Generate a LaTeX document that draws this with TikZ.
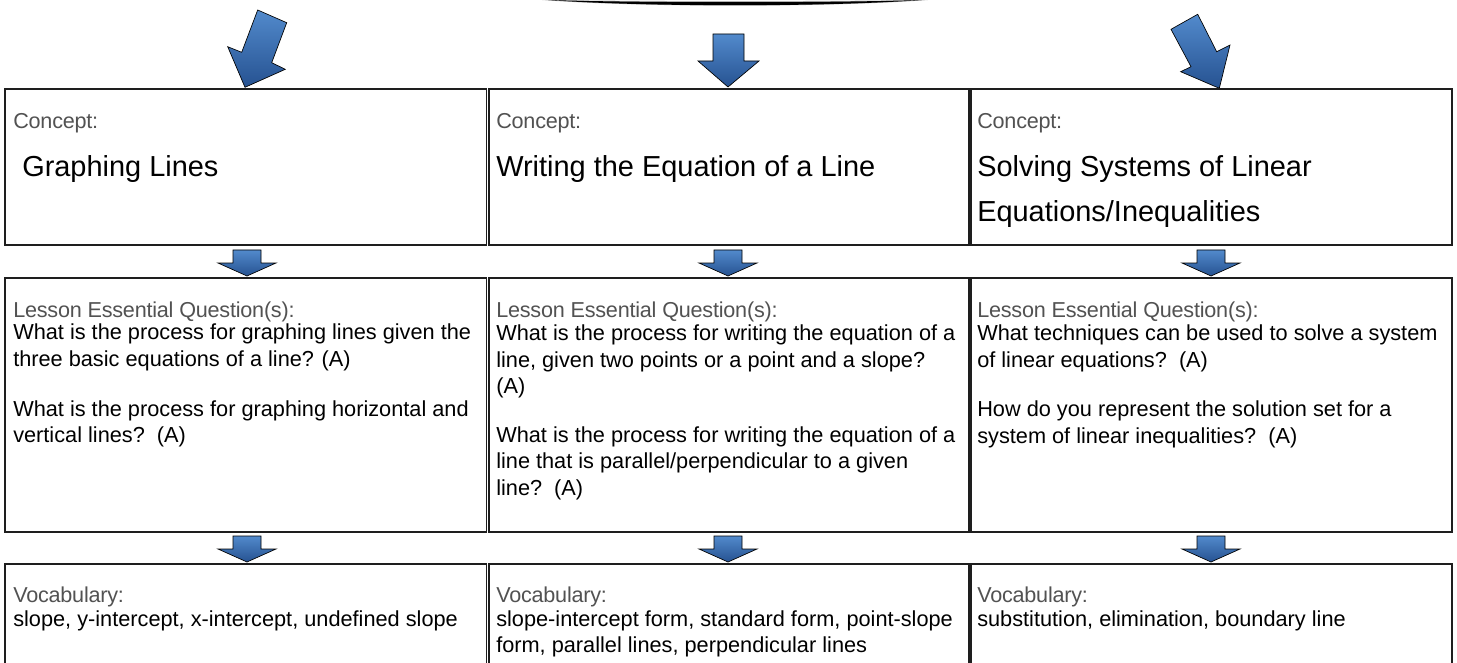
\documentclass[tikz,border=0pt]{standalone}
\usepackage{fontspec}
\setmainfont{Liberation Sans}
\newfontfamily\hdrfont[LetterSpace=-1]{Liberation Sans}
\usetikzlibrary{fit}
\definecolor{hdrgray}{RGB}{82,82,82}
\definecolor{arrtop}{RGB}{82,138,204}
\definecolor{arrbot}{RGB}{38,82,145}
\definecolor{boxline}{RGB}{30,30,30}
\begin{document}
\begin{tikzpicture}[x=0.75pt,y=-0.75pt,
  box/.style={draw=boxline, line width=1.1pt, inner sep=0pt, outer sep=0pt},
  lab/.style={anchor=base west, inner sep=0pt, text=hdrgray, font=\hdrfont\fontsize{16.2}{20}\selectfont},
  txt/.style={anchor=base west, inner sep=0pt, font=\fontsize{16.3}{20}\selectfont},
  ttl/.style={anchor=base west, inner sep=0pt, font=\fontsize{21.7}{26}\selectfont},
  blockarrow/.style={draw=black, line width=0.5pt, top color=arrtop, bottom color=arrbot, line join=miter},
  downarrow/.pic={\path[blockarrow] (-14,0) -- (14,0) -- (14,13) -- (29,13) -- (0,26) -- (-29,13) -- (-14,13) -- cycle;}]
\useasboundingbox (0,0) rectangle (1457,663);
\clip (0,0) rectangle (1457,663);
\fill[white] (0,0) rectangle (1457,663);

% top curved edge
\fill[gray!60] (542,0) .. controls (640,7.5) and (830,7.5) .. (928,0) .. controls (830,1.5) and (640,1.5) .. cycle;
\fill[black] (548,0) .. controls (645,7) and (825,7) .. (922,0) .. controls (825,3) and (645,3) .. cycle;

% top block arrows
\path[blockarrow] (257.7,10) -- (286.7,22.7) -- (271.7,62.7) -- (285.3,69.3) -- (245,87.3) -- (227.7,46.7) -- (241.7,52.3) -- cycle;
\path[blockarrow] (713,34) -- (744,34) -- (744,61) -- (759,61) -- (728,87) -- (698,61) -- (713,61) -- cycle;
\path[blockarrow] (1197.7,14.3) -- (1171,29.3) -- (1191,66.7) -- (1180.7,71.7) -- (1219.3,88.3) -- (1230,45) -- (1216.7,51.7) -- cycle;

% boxes
\node[box, fit={(5,89) (486.5,245)}] (c1) {};
\node[box, fit={(489,89) (969,245)}] (c2) {};
\node[box, fit={(971,89) (1452,245)}] (c3) {};
\node[box, fit={(5,278) (486.5,532)}] (q1) {};
\node[box, fit={(489,278) (969,532)}] (q2) {};
\node[box, fit={(971,278) (1452,532)}] (q3) {};
\node[box, fit={(5,564) (486.5,720)}] (v1) {};
\node[box, fit={(489,564) (969,720)}] (v2) {};
\node[box, fit={(971,564) (1452,720)}] (v3) {};

% small arrows between rows
\pic at (247,250) {downarrow};
\pic at (728,250) {downarrow};
\pic at (1211,250) {downarrow};
\pic at (247,536) {downarrow};
\pic at (728,536) {downarrow};
\pic at (1211,536) {downarrow};

% column 1
\node[lab] (c1l) at (13,129) {Concept:};
\node[ttl] (c1t) at (22,177) {Graphing Lines};
\node[lab] (q1l) at (13,317) {Lesson Essential Question(s):};
\node[txt] (q1a) at (13,339) {What is the process for graphing lines given the};
\node[txt] (q1b) at (13,366) {three basic equations of a line?\hspace{0.35em}(A)};
\node[txt] (q1c) at (13,416) {What is the process for graphing horizontal and};
\node[txt] (q1d) at (13,442) {vertical lines?~~(A)};
\node[lab] (v1l) at (13,602) {Vocabulary:};
\node[txt] (v1a) at (13,626) {slope, y-intercept, x-intercept, undefined slope};

% column 2
\node[lab] (c2l) at (496,129) {Concept:};
\node[ttl] (c2t) at (496,177) {Writing the Equation of a Line};
\node[lab] (q2l) at (496,317) {Lesson Essential Question(s):};
\node[txt] (q2a) at (496,340) {What is the process for writing the equation of a};
\node[txt] (q2b) at (496,367) {line, given two points or a point and a slope?};
\node[txt] (q2c) at (496,393) {(A)};
\node[txt] (q2d) at (496,442) {What is the process for writing the equation of a};
\node[txt] (q2e) at (496,468) {line that is parallel/perpendicular to a given};
\node[txt] (q2f) at (496,495) {line?~~(A)};
\node[lab] (v2l) at (496,602) {Vocabulary:};
\node[txt] (v2a) at (496,626) {slope-intercept form, standard form, point-slope};
\node[txt] (v2b) at (496,652) {form, parallel lines, perpendicular lines};

% column 3
\node[lab] (c3l) at (977,129) {Concept:};
\node[ttl] (c3t) at (977,177) {Solving Systems of Linear};
\node[ttl] (c3u) at (977,222) {Equations/Inequalities};
\node[lab] (q3l) at (977,317) {Lesson Essential Question(s):};
\node[txt] (q3a) at (977,340) {What techniques can be used to solve a system};
\node[txt] (q3b) at (977,367) {of linear equations?~~(A)};
\node[txt] (q3c) at (977,416) {How do you represent the solution set for a};
\node[txt] (q3d) at (977,443) {system of linear inequalities?~~(A)};
\node[lab] (v3l) at (977,602) {Vocabulary:};
\node[txt] (v3a) at (977,626) {substitution, elimination, boundary line};
\end{tikzpicture}
\end{document}
